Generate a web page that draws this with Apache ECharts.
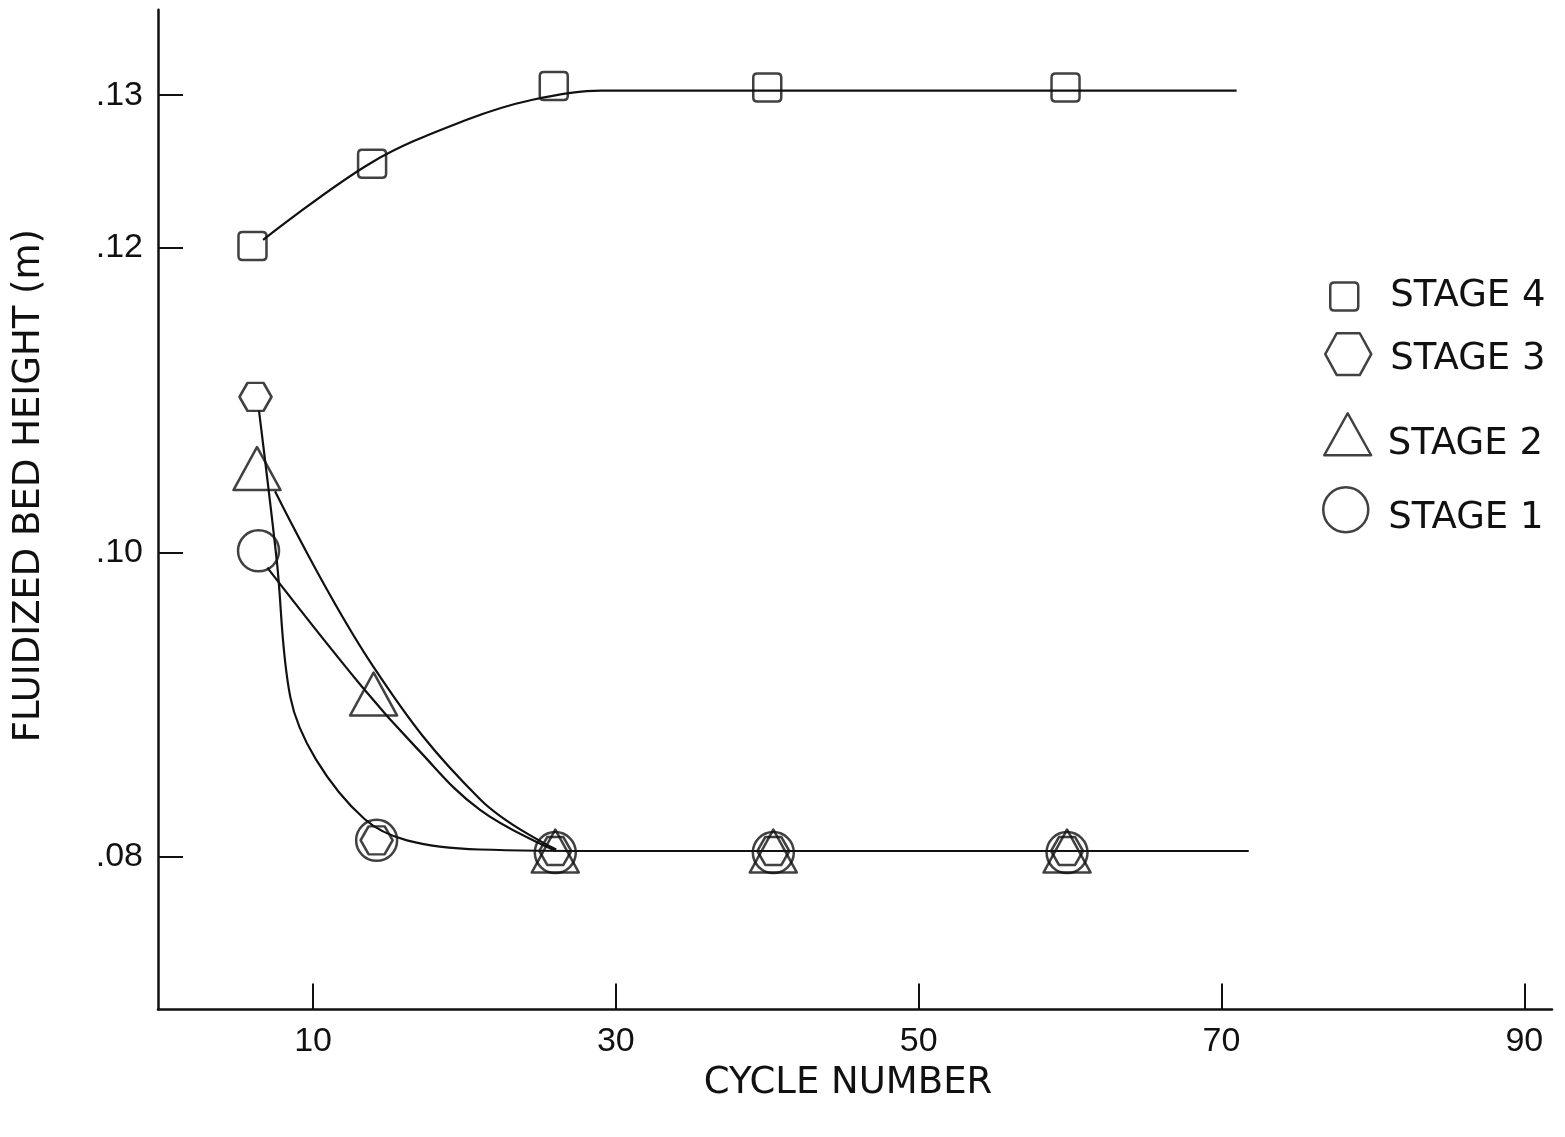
<!DOCTYPE html>
<html>
<head>
<meta charset="utf-8">
<script src="https://cdn.jsdelivr.net/npm/echarts@6/dist/echarts.min.js"></script>
<style>html,body{margin:0;padding:0;background:#fff}#c{width:1565px;height:1137px}</style>
</head>
<body>
<div id="c"></div>
<script>
// ---------- data ----------
const stageNames = ['STAGE 4', 'STAGE 3', 'STAGE 2', 'STAGE 1'];

// measured points (cycle number, fluidized bed height in m)
const cycles4 = [6.0, 13.9, 25.9, 40.0, 59.7];
const height4 = [0.1201, 0.1255, 0.1306, 0.1305, 0.1305];
const cycles3 = [6.2, 14.2, 26.0, 40.4, 59.8];
const height3 = [0.1102, 0.0811, 0.0804, 0.0804, 0.0804];
const cycles2 = [6.3, 14.0, 26.0, 40.4, 59.8];
const height2 = [0.1055, 0.0907, 0.0804, 0.0804, 0.0804];
const cycles1 = [6.4, 14.2, 26.0, 40.4, 59.8];
const height1 = [0.1001, 0.0811, 0.0803, 0.0803, 0.0803];

// hand-drawn fitted curves
const curve4X = [6.7, 13.9, 20.2, 24.5, 29.0, 35.0, 71.0];
const curve4Y = [0.1205, 0.1256, 0.1284, 0.1297, 0.1303, 0.1303, 0.1303];
const curve3X = [6.43, 7.6, 8.5, 10.2, 13.4, 16.2, 21.0, 30.0, 71.8];
const curve3Y = [0.1093, 0.0995, 0.0905, 0.0864, 0.0825, 0.0811, 0.0805, 0.0804, 0.0804];
const curve2X = [7.49, 13.98, 21.03, 26.06];
const curve2Y = [0.1040, 0.0925, 0.0838, 0.0805];
const curve1X = [6.98, 13.22, 16.8, 21.03, 26.06];
const curve1Y = [0.0990, 0.0912, 0.0872, 0.0831, 0.0804];

// axis ticks
const xTickValues = [10, 30, 50, 70, 90];
const xTickLabels = ['10', '30', '50', '70', '90'];
const yTickValues = [0.08, 0.10, 0.12, 0.13];
const yTickLabels = ['.08', '.10', '.12', '.13'];

// ---------- chart ----------
const zip = (xs, ys) => xs.map((x, i) => [x, ys[i]]);
const ink = '#111';
const hollow = {color: 'rgba(255,255,255,0)', borderColor: ink, borderWidth: 2.5, borderJoin: 'round'};

const sqPath = 'path://M4,0 H24 Q28,0 28,4 V24 Q28,28 24,28 H4 Q0,28 0,24 V4 Q0,0 4,0 Z';
const hexPath = 'path://M8,0 L24,0 L32,14 L24,28 L8,28 L0,14 Z';
const hexLegendPath = 'path://M11,0 L33,0 L44,20 L33,40 L11,40 L0,20 Z';
const triPath = 'path://M24,0 L48,43 L0,43 Z';

function labelFor(values, labels) {
  return function (v) {
    for (let i = 0; i < values.length; i++) {
      if (Math.abs(values[i] - v) < 1e-6) return labels[i];
    }
    return '';
  };
}

function scatter(name, xs, ys, symbol, size) {
  return {
    name: name, type: 'scatter', data: zip(xs, ys),
    symbol: symbol, symbolSize: size,
    itemStyle: hollow, z: 3, silent: true
  };
}
function curve(name, xs, ys, smooth) {
  return {
    name: name, type: 'line', data: zip(xs, ys),
    smooth: smooth, showSymbol: false, symbol: 'none',
    lineStyle: {color: ink, width: 2.2}, z: 2, silent: true
  };
}

function legendBox(name, icon, left, top, w, h, shiftDown, gap) {
  return {
    data: [{name: name, icon: icon}],
    left: left, top: top, padding: 0,
    itemWidth: w, itemHeight: h,
    selectedMode: false,
    itemStyle: {color: 'rgba(255,255,255,0)', borderColor: ink, borderWidth: 2.5},
    formatter: '{s|{name}}',
    textStyle: {
      fontFamily: 'DejaVu Sans', fontSize: 37, color: ink,
      rich: {s: {fontFamily: 'DejaVu Sans', fontSize: 37, color: ink, padding: [2 * shiftDown, 0, 0, gap]}}
    }
  };
}

const chart = echarts.init(document.getElementById('c'), null, {renderer: 'canvas'});
chart.setOption({
  animation: false,
  backgroundColor: '#fff',
  grid: {left: 158, top: 9.8, width: 1394, height: 999.7, containLabel: false, outerBoundsMode: 'none'},
  xAxis: {
    type: 'value', min: -0.24, max: 91.83,
    axisLine: {show: true, onZero: false, lineStyle: {color: ink, width: 2.5}},
    axisTick: {show: true, inside: true, length: 26, customValues: xTickValues, lineStyle: {color: ink, width: 2}},
    axisLabel: {customValues: xTickValues, formatter: labelFor(xTickValues, xTickLabels),
      margin: 15, fontSize: 34, fontFamily: 'Liberation Sans', color: ink},
    splitLine: {show: false},
    name: 'CYCLE NUMBER', nameLocation: 'middle', nameGap: 55,
    nameTextStyle: {fontFamily: 'DejaVu Sans', fontSize: 37, color: ink, padding: [0, 14, 0, 0]}
  },
  yAxis: {
    type: 'value', min: 0.07, max: 0.1356,
    axisLine: {show: true, onZero: false, lineStyle: {color: ink, width: 2.5}},
    axisTick: {show: true, inside: true, length: 25, customValues: yTickValues, lineStyle: {color: ink, width: 2}},
    axisLabel: {customValues: yTickValues, formatter: labelFor(yTickValues, yTickLabels),
      margin: 15, fontSize: 34, fontFamily: 'Liberation Sans', color: ink},
    splitLine: {show: false},
    name: 'FLUIDIZED BED HEIGHT (m)', nameLocation: 'middle', nameGap: 110,
    nameTextStyle: {fontFamily: 'DejaVu Sans', fontSize: 37, color: ink, padding: [0, 0, 0, 48]}
  },
  legend: [
    legendBox(stageNames[0], sqPath, 1329, 278, 28, 28, 0, 27),
    legendBox(stageNames[1], hexLegendPath, 1324, 332, 46, 42, 5, 14),
    legendBox(stageNames[2], triPath, 1323, 412, 48, 42, 10, 11),
    legendBox(stageNames[3], 'circle', 1322, 486, 45, 45, 9, 15)
  ],
  series: [
    curve('curve 4', curve4X, curve4Y, 0.35),
    curve('curve 3', curve3X, curve3Y, 0.35),
    curve('curve 2', curve2X, curve2Y, 0.4),
    curve('curve 1', curve1X, curve1Y, 0.4),
    scatter(stageNames[0], cycles4, height4, sqPath, [28, 28]),
    scatter(stageNames[1], cycles3, height3, hexPath, [32, 28]),
    scatter(stageNames[2], cycles2, height2, triPath, [47, 43]),
    scatter(stageNames[3], cycles1, height1, 'circle', 41)
  ]
});
</script>
</body>
</html>
